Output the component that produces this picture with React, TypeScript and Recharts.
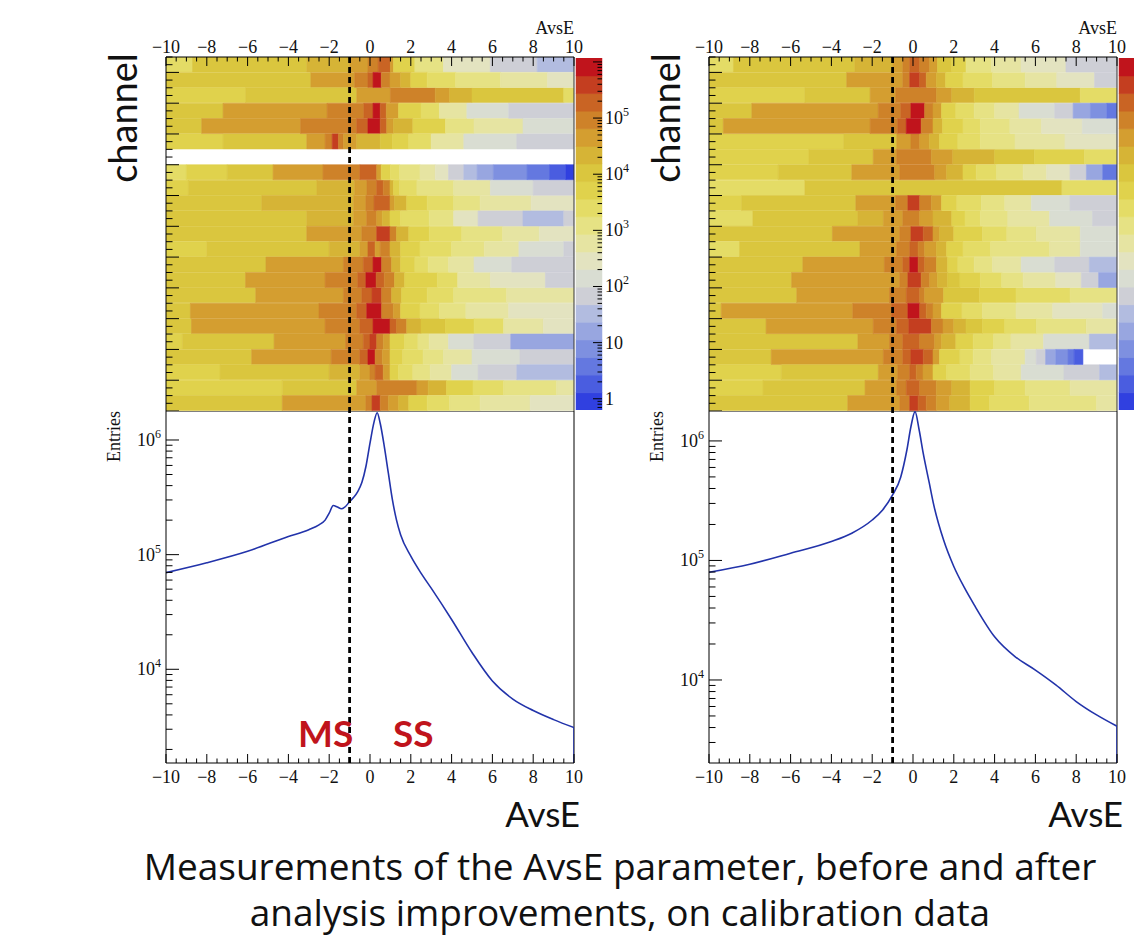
import React from "react";
import { Bar, BarChart, Cell, Line, LineChart, ReferenceLine, XAxis, YAxis } from "recharts";

const AVSE_MIN = -10;
const AVSE_MAX = 10;
const CUT = -1;
const CHANNELS = 23;
const SERIF = "'Liberation Serif', 'DejaVu Serif', serif";
const SANS = "Lato, 'Open Sans', sans-serif";

// colour bands of the z axis, lowest (blue) to highest (red)
const palette = [
  "#3040e0", "#4a5de0", "#6478e0", "#7e90e0", "#98a6e0", "#b2bce0", "#cecfd6",
  "#d9ddd2", "#e3e3c0", "#e6e4a2", "#e6e284", "#e4dc66", "#e0d24c", "#dac63e",
  "#d6b436", "#d49e30", "#ce8229", "#c96424", "#c43e20", "#c0141c",
];

// heatmap rows, top channel first: [start of run in AvsE, colour band]
const beforeRows: number[][][] = [
  [[-10, 11], [-8.7, 13], [-3.1, 14], [-1, 15], [-0.1, 16], [0.4, 17], [1.0, 15], [1.15, 12], [2.2, 10], [3.6, 8], [5.9, 6], [8.2, 5]],
  [[-10, 13], [-2.9, 15], [-0.75, 16], [-0.1, 17], [0.15, 19], [0.55, 16], [0.98, 15], [1.5, 14], [2, 12], [2.8, 11], [4.2, 10], [6.4, 9], [8.7, 8]],
  [[-10, 12], [-6.1, 13], [-0.65, 15], [1.0, 16], [3.2, 15], [3.9, 14], [5.0, 13], [9.5, 11]],
  [[-10, 13], [-7.2, 15], [-2.1, 16], [-0.3, 17], [0.15, 19], [0.5, 17], [0.8, 15], [1.4, 12], [2.5, 11], [3.4, 9], [4.75, 7], [6.8, 6]],
  [[-10, 13], [-8.25, 15], [-3.4, 16], [-0.65, 17], [-0.1, 19], [0.5, 17], [0.82, 15], [1.15, 14], [2.1, 12], [3.7, 10], [5.1, 9], [7.5, 7]],
  [[-10, 12], [-7.2, 13], [-3.1, 15], [-2.2, 16], [-1.85, 18], [-1.55, 16], [-1.3, 15], [-0.65, 14], [0.5, 13], [1.1, 12], [1.9, 11], [3.0, 9], [4.6, 7], [7.2, 6]],
  [],
  [[-10, 11], [-9, 12], [-7, 13], [-4.75, 15], [-2.3, 16], [-0.5, 17], [0.33, 15], [0.55, 12], [1.0, 11], [1.45, 10], [2.45, 9], [3.2, 8], [3.85, 6], [4.6, 5], [5.25, 4], [6.05, 3], [7.7, 2], [8.8, 1], [9.6, 0]],
  [[-10, 12], [-8.9, 13], [-2.6, 14], [-0.75, 15], [-0.15, 16], [0.33, 17], [0.65, 16], [0.98, 14], [1.15, 12], [1.45, 11], [2.3, 10], [4.1, 9], [5.9, 7], [8, 6]],
  [[-10, 13], [-5.3, 14], [-0.8, 15], [-0.2, 16], [0.2, 17], [0.98, 15], [1.2, 14], [1.8, 12], [2.8, 11], [4.1, 10], [5.4, 9], [7.9, 8]],
  [[-10, 13], [-3.1, 14], [-0.8, 15], [-0.16, 16], [0.33, 15], [0.6, 14], [0.98, 12], [1.5, 11], [2.9, 10], [4.1, 8], [5.3, 6], [7.5, 5], [9.5, 6]],
  [[-10, 13], [-3.1, 15], [-0.4, 16], [0.33, 18], [0.98, 16], [1.3, 14], [1.9, 12], [2.9, 11], [4.5, 10], [6.5, 9], [8.3, 8]],
  [[-10, 12], [-8, 13], [-2, 14], [-0.5, 15], [-0.1, 17], [0.25, 15], [0.5, 16], [0.98, 14], [1.5, 12], [2.45, 11], [4, 10], [5.6, 9], [7.3, 7], [9.5, 6]],
  [[-10, 13], [-5.1, 15], [-1.3, 16], [-0.33, 17], [0.15, 19], [0.57, 16], [1.06, 14], [1.5, 12], [2.2, 11], [2.85, 10], [3.85, 9], [5.1, 7], [6.95, 6]],
  [[-10, 13], [-6.1, 15], [-2.2, 16], [-0.6, 17], [-0.2, 19], [0.3, 17], [0.7, 16], [1.2, 14], [1.7, 12], [3.3, 11], [4.3, 9], [5.9, 8], [8.6, 6]],
  [[-10, 13], [-5.6, 15], [-1.3, 16], [-0.4, 17], [0.1, 18], [0.57, 16], [1.06, 14], [1.55, 12], [2.8, 11], [4.1, 10], [6.7, 9]],
  [[-10, 13], [-8.8, 15], [-2.5, 16], [-0.65, 17], [-0.16, 19], [0.57, 16], [1.14, 15], [1.5, 12], [2.45, 11], [3.4, 10], [4.7, 9], [6.8, 8]],
  [[-10, 13], [-8.75, 15], [-2.2, 16], [-0.5, 17], [0.15, 19], [0.98, 17], [1.3, 16], [1.8, 14], [2.5, 13], [3.7, 12], [5.1, 11], [6.55, 9], [8.5, 8]],
  [[-10, 12], [-9.2, 13], [-4.7, 15], [-1.2, 16], [-0.33, 17], [0, 18], [0.33, 16], [0.65, 15], [0.98, 12], [1.7, 11], [2.35, 10], [2.9, 9], [3.85, 7], [5.1, 6], [6.9, 4]],
  [[-10, 13], [-5.8, 15], [-1.9, 16], [-0.5, 17], [-0.1, 19], [0.25, 16], [0.6, 15], [0.98, 12], [1.6, 11], [2.6, 10], [3.6, 9], [5.0, 7], [7.35, 6]],
  [[-10, 12], [-7.35, 13], [-2, 14], [-0.5, 15], [0, 16], [0.25, 17], [0.65, 15], [0.98, 12], [1.4, 11], [2.1, 10], [2.95, 9], [4, 7], [5.3, 6], [7.2, 5]],
  [[-10, 12], [-4.3, 13], [-0.65, 15], [0.33, 16], [2.3, 15], [2.85, 14], [3.75, 12], [5.05, 11], [6.55, 10], [9.15, 9]],
  [[-10, 13], [-4.3, 15], [-0.2, 16], [0.1, 18], [0.5, 16], [0.9, 15], [1.4, 14], [1.9, 12], [2.8, 11], [3.9, 10], [5.4, 9], [7.85, 8]],
];

const afterRows: number[][][] = [
  [[-10, 11], [-8.8, 13], [-2.85, 14], [-0.98, 15], [-0.5, 16], [-0.16, 17], [0.33, 16], [0.82, 15], [1.2, 13], [1.9, 12], [2.6, 10], [3.85, 9], [5.3, 8], [7.5, 6]],
  [[-10, 13], [-3.25, 15], [-0.5, 16], [-0.16, 18], [0.33, 17], [0.65, 15], [1.15, 14], [1.6, 12], [2.45, 11], [3.9, 10], [5.5, 9], [7.05, 8], [8.9, 6]],
  [[-10, 12], [-5.3, 13], [-2.1, 15], [-0.85, 16], [1.15, 15], [1.9, 14], [3.0, 13], [8.2, 11]],
  [[-10, 13], [-7.9, 15], [-1.7, 16], [-0.6, 17], [-0.1, 19], [0.57, 16], [0.98, 15], [1.4, 12], [2.1, 11], [3.0, 10], [4.0, 9], [5.2, 7], [6.95, 6], [7.85, 4], [8.7, 3], [9.5, 2]],
  [[-10, 13], [-9.3, 15], [-2.1, 16], [-0.75, 17], [-0.33, 19], [0.4, 16], [0.98, 14], [1.45, 12], [2.45, 11], [3.3, 10], [4.75, 9], [6.3, 8], [8.3, 7]],
  [[-10, 12], [-3.4, 13], [-0.8, 15], [-0.1, 16], [0.33, 15], [0.8, 14], [1.3, 12], [2.2, 11], [3.3, 10], [5.0, 9], [7.45, 8]],
  [[-10, 12], [-5.1, 13], [-1.95, 15], [-0.8, 16], [0.9, 15], [1.95, 14], [4, 13], [5.95, 12], [8.4, 11]],
  [[-10, 12], [-6.6, 13], [-3, 15], [-0.65, 16], [1.06, 15], [1.65, 14], [2.45, 12], [3.1, 11], [4.1, 10], [5.4, 9], [6.55, 8], [7.7, 6], [8.5, 4], [9.3, 2]],
  [[-10, 11], [-5.3, 13], [7.3, 11]],
  [[-10, 12], [-8.4, 13], [-2.8, 15], [-0.85, 16], [-0.25, 18], [0.33, 16], [0.9, 15], [1.4, 12], [2.15, 11], [3.35, 10], [4.5, 9], [5.8, 7], [7.7, 6]],
  [[-10, 11], [-7.85, 13], [-2.7, 14], [-1.45, 15], [-0.5, 16], [0.33, 15], [0.98, 14], [1.9, 12], [2.55, 11], [3.3, 10], [4.65, 9], [6.7, 7], [8.8, 6]],
  [[-10, 13], [-3.95, 15], [-0.65, 16], [-0.1, 18], [0.5, 17], [0.98, 15], [1.3, 14], [2, 12], [3.4, 11], [4.6, 10], [6.05, 9], [8.2, 7]],
  [[-10, 11], [-8.5, 13], [-2.6, 15], [-0.8, 16], [-0.16, 17], [0.25, 16], [0.57, 15], [1.15, 14], [1.65, 12], [2.45, 11], [3.8, 10], [6.7, 9], [8.2, 7]],
  [[-10, 13], [-5.4, 15], [-1.4, 16], [-0.5, 17], [-0.16, 19], [0.25, 17], [0.57, 16], [1.15, 14], [1.7, 12], [2.2, 11], [3.0, 10], [3.9, 9], [5.3, 7], [6.95, 6], [8.65, 5]],
  [[-10, 13], [-5.95, 15], [-0.65, 16], [-0.25, 18], [0.4, 16], [0.82, 15], [1.2, 14], [1.7, 13], [2.3, 12], [3.3, 11], [4.35, 10], [5.4, 9], [7.0, 8], [8.25, 6], [9.1, 4]],
  [[-10, 13], [-5.7, 15], [-1.15, 16], [-0.33, 17], [0.33, 16], [0.57, 15], [1.5, 13], [3.25, 12], [5.05, 11], [7.7, 10]],
  [[-10, 13], [-9.4, 15], [-2.95, 16], [-1.05, 17], [-0.25, 19], [0.33, 17], [0.65, 16], [0.98, 15], [1.4, 12], [2.4, 11], [3.4, 10], [5.05, 9], [6.85, 8], [9.3, 7]],
  [[-10, 13], [-7.2, 15], [-1.95, 16], [-0.8, 17], [-0.2, 18], [0.9, 16], [1.47, 15], [2, 14], [2.6, 13], [3.4, 12], [4.5, 11], [6.05, 10], [8.5, 9]],
  [[-10, 13], [-2.7, 15], [-1.15, 16], [-0.5, 17], [0.33, 16], [1.06, 15], [1.4, 14], [2.1, 12], [2.95, 11], [3.95, 10], [4.8, 9], [6.4, 7], [8.65, 5]],
  [[-10, 13], [-6.95, 15], [-1.45, 16], [-0.5, 17], [-0.1, 18], [0.5, 17], [0.98, 15], [1.3, 12], [2.3, 11], [2.95, 10], [3.85, 9], [5.5, 7], [6.05, 6], [6.5, 4], [7.0, 3], [7.6, 2], [7.9, 1], [8.33, -1]],
  [[-10, 12], [-6.45, 13], [-1.7, 15], [-0.75, 16], [-0.16, 17], [0.16, 16], [0.49, 15], [0.98, 12], [1.65, 11], [2.8, 10], [3.95, 9], [5.3, 7], [7.4, 6], [9.15, 5]],
  [[-10, 12], [-7.35, 13], [-2.35, 15], [-0.8, 16], [-0.33, 17], [0.33, 16], [1.14, 15], [1.9, 14], [2.8, 12], [4, 11], [5.5, 10], [7.7, 9]],
  [[-10, 13], [-3.2, 15], [-0.65, 16], [-0.16, 18], [0.25, 17], [0.65, 16], [1.14, 15], [1.8, 14], [2.8, 12], [3.75, 11], [5.7, 10], [9, 9]],
];

// projected AvsE distributions
const beforeAvsE = [-10, -8, -6, -4, -3, -2.5, -2.2, -2.0, -1.8, -1.6, -1.4, -1.2, -1.0, -0.8, -0.6, -0.4, -0.2, 0, 0.2, 0.35, 0.5, 0.7, 0.9, 1.1, 1.3, 1.5, 2, 2.5, 3, 4, 5, 6, 7, 8, 9, 10];
const beforeEntries = [6.97e4, 8.5e4, 1.07e5, 1.44e5, 1.65e5, 1.82e5, 2.0e5, 2.3e5, 2.68e5, 2.6e5, 2.51e5, 2.63e5, 2.9e5, 3.16e5, 3.55e5, 4.25e5, 5.87e5, 9.4e5, 1.44e6, 1.73e6, 1.4e6, 8.8e5, 5.13e5, 3.0e5, 2.0e5, 1.49e5, 9.7e4, 6.9e4, 5.1e4, 2.72e4, 1.4e4, 7.9e3, 5.5e3, 4.37e3, 3.64e3, 3.1e3];
const afterAvsE = [-10, -8, -6, -4, -3, -2, -1.5, -1, -0.6, -0.3, -0.1, 0.1, 0.3, 0.5, 0.8, 1, 1.5, 2, 2.5, 3, 4, 5, 6, 7, 8, 9, 10];
const afterEntries = [7.96e4, 9.3e4, 1.15e5, 1.44e5, 1.69e5, 2.18e5, 2.63e5, 3.53e5, 5.0e5, 8.4e5, 1.32e6, 1.76e6, 1.24e6, 7.9e5, 4.43e5, 3.0e5, 1.48e5, 8.9e4, 6.0e4, 4.25e4, 2.3e4, 1.57e4, 1.21e4, 9.1e3, 6.6e3, 5.1e3, 4.1e3];

const beforeEntriesRange = [1523, 1.79e6];
const afterEntriesRange = [2020, 1.78e6];
// colour axis range, log10
const beforeZRange = [-0.2, 6.07];
const afterZRange = [-0.63, 5.68];

const halfSteps = (from: number, to: number) =>
  Array.from({ length: Math.round((to - from) * 2) + 1 }, (_, i) => from + i / 2);

const logTicks = (lo: number, hi: number) => {
  const out: number[] = [];
  for (let d = Math.floor(Math.log10(lo)); d <= Math.ceil(Math.log10(hi)); d++)
    for (let m = 1; m <= 9; m++) {
      const v = m * 10 ** d;
      if (v >= lo * 0.999 && v <= hi * 1.001) out.push(v);
    }
  return out;
};

const isDecade = (v: number) => Math.abs(Math.log10(v) - Math.round(Math.log10(v))) < 1e-6;
const signed = (v: number) => (v < 0 ? `\u2212${-v}` : `${v}`);

function Power({ x, y, value, anchor }: { x: number; y: number; value: number; anchor: "start" | "end" }) {
  const e = Math.round(Math.log10(value));
  return (
    <text x={x} y={y} textAnchor={anchor} fontFamily={SERIF} fontSize={18} fill="#111">
      {e === 0 ? "1" : "10"}
      {e > 1 && (
        <tspan dy={-8} fontSize={12}>
          {e}
        </tspan>
      )}
    </text>
  );
}

const topTick = (shift: number) => (props: any) => {
  const { x, y, payload } = props;
  const v = payload.value - shift;
  const major = Math.abs(v % 2) < 1e-6;
  return (
    <g>
      <line x1={x} x2={x} y1={y} y2={y + (major ? 9 : 4.5)} stroke="#000" />
      {major && (
        <text x={x} y={y - 4} textAnchor="middle" fontFamily={SERIF} fontSize={18} fill="#111">
          {signed(v)}
        </text>
      )}
    </g>
  );
};

const bottomTick = (props: any) => {
  const { x, y, payload } = props;
  const v = payload.value;
  const major = Math.abs(v % 2) < 1e-6;
  return (
    <g>
      <line x1={x} x2={x} y1={y} y2={y - (major ? 9 : 4.5)} stroke="#000" />
      {major && (
        <text x={x} y={y + 20} textAnchor="middle" fontFamily={SERIF} fontSize={18} fill="#111">
          {signed(v)}
        </text>
      )}
    </g>
  );
};

const channelTick = (props: any) => {
  const { x, y, payload } = props;
  const major = Math.abs(payload.value % 2) < 1e-6;
  return <line x1={x} x2={x + (major ? 13 : 6.5)} y1={y} y2={y} stroke="#000" />;
};

const entriesTick = (props: any) => {
  const { x, y, payload } = props;
  const major = isDecade(payload.value);
  return (
    <g>
      <line x1={x} x2={x + (major ? 13 : 6.5)} y1={y} y2={y} stroke="#000" />
      {major && <Power x={x - 5} y={y + 6} value={payload.value} anchor="end" />}
    </g>
  );
};

// colour-bar ticks; the decade right at the top end of the bar is left unlabelled
const zTick = (top: number, labels: boolean) => (props: any) => {
  const { x, y, payload } = props;
  const major = isDecade(payload.value);
  const labelled = labels && major && Math.log10(top) - Math.log10(payload.value) > 0.1;
  return (
    <g>
      <line x1={x} x2={x - (major ? 9 : 4.5)} y1={y} y2={y} stroke="#000" />
      {labelled && <Power x={x + 3} y={y + 6} value={payload.value} anchor="start" />}
    </g>
  );
};

const buildHeat = (rows: number[][][]) =>
  rows.map((runs, i) => {
    const rec: Record<string, number> = { ch: CHANNELS - i - 0.5 };
    runs.forEach(([start, band], k) => {
      const end = k + 1 < runs.length ? runs[k + 1][0] : AVSE_MAX;
      rec[`w${k}`] = end - start;
      rec[`b${k}`] = band;
    });
    return rec;
  });

interface PanelProps {
  dx: number;
  rows: number[][][];
  avse: number[];
  entries: number[];
  entriesRange: number[];
  zRange: number[];
  zLabels: boolean;
}

function Panel({ dx, rows, avse, entries, entriesRange, zRange, zLabels }: PanelProps) {
  // stacked bars start at 0, so the heatmap axis runs over AvsE - AVSE_MIN
  const shift = -AVSE_MIN;
  const heat = buildHeat(rows);
  const maxRuns = Math.max(...rows.map((r) => r.length));
  const curve = avse.map((x, i) => ({ x, n: entries[i] }));
  const edge = [
    { x: avse[avse.length - 1], n: entries[entries.length - 1] },
    { x: avse[avse.length - 1], n: entriesRange[0] },
  ];
  const step = (zRange[1] - zRange[0]) / palette.length;
  const bands = palette.map((fill, k) => ({ z: 10 ** (zRange[0] + (k + 0.5) * step), v: 1, fill }));
  const zDomain = [10 ** zRange[0], 10 ** zRange[1]];

  return (
    <>
      <div style={{ position: "absolute", left: 100 + dx, top: 0 }}>
        <BarChart
          width={495}
          height={411}
          data={heat}
          layout="vertical"
          margin={{ top: 56, right: 21, bottom: 0, left: 65 }}
          barCategoryGap={0}
          barGap={0}
        >
          <XAxis
            type="number"
            orientation="top"
            domain={[0, AVSE_MAX + shift]}
            allowDataOverflow
            ticks={halfSteps(AVSE_MIN, AVSE_MAX).map((v) => v + shift)}
            interval={0}
            tick={topTick(shift)}
            tickSize={0}
            tickMargin={0}
            height={1}
            axisLine={{ stroke: "#000" }}
          />
          <YAxis
            type="number"
            dataKey="ch"
            domain={[0, CHANNELS]}
            reversed
            allowDataOverflow
            ticks={halfSteps(0, CHANNELS)}
            interval={0}
            tick={channelTick}
            tickSize={0}
            tickMargin={0}
            width={1}
            axisLine={{ stroke: "#000" }}
          />
          {Array.from({ length: maxRuns }, (_, k) => (
            <Bar key={k} dataKey={`w${k}`} stackId="heat" isAnimationActive={false}>
              {heat.map((d, i) => {
                const b = d[`b${k}`];
                const fill = b === undefined || b < 0 ? "transparent" : palette[b];
                return <Cell key={i} fill={fill} stroke={fill} strokeWidth={0.6} />;
              })}
            </Bar>
          ))}
          <ReferenceLine x={AVSE_MAX + shift} stroke="#333" />
          <ReferenceLine x={CUT + shift} stroke="#000" strokeWidth={2.8} strokeDasharray="6 4" />
        </BarChart>
      </div>

      <div style={{ position: "absolute", left: 560 + dx, top: 0 }}>
        <BarChart
          width={80}
          height={411}
          data={bands}
          layout="vertical"
          margin={{ top: 58, right: 37, bottom: 1, left: 16 }}
          barCategoryGap={0}
        >
          <XAxis type="number" domain={[0, 1]} hide />
          <YAxis
            type="number"
            dataKey="z"
            scale="log"
            domain={zDomain}
            reversed
            allowDataOverflow
            orientation="right"
            ticks={logTicks(zDomain[0], zDomain[1])}
            interval={0}
            tick={zTick(zDomain[1], zLabels)}
            tickSize={0}
            tickMargin={0}
            width={1}
            axisLine={false}
          />
          <Bar dataKey="v" isAnimationActive={false}>
            {bands.map((b, i) => (
              <Cell key={i} fill={b.fill} stroke={b.fill} strokeWidth={0.5} />
            ))}
          </Bar>
        </BarChart>
      </div>

      <div style={{ position: "absolute", left: 100 + dx, top: 411 }}>
        <LineChart width={500} height={420} data={curve} margin={{ top: 0, right: 26, bottom: 67, left: 65 }}>
          <XAxis
            type="number"
            dataKey="x"
            domain={[AVSE_MIN, AVSE_MAX]}
            allowDataOverflow
            ticks={halfSteps(AVSE_MIN, AVSE_MAX)}
            interval={0}
            tick={bottomTick}
            tickSize={0}
            tickMargin={0}
            height={1}
            axisLine={{ stroke: "#000" }}
          />
          <YAxis
            type="number"
            scale="log"
            domain={entriesRange}
            allowDataOverflow
            ticks={logTicks(entriesRange[0], entriesRange[1])}
            interval={0}
            tick={entriesTick}
            tickSize={0}
            tickMargin={0}
            width={1}
            axisLine={{ stroke: "#000" }}
          />
          <ReferenceLine y={entriesRange[1]} stroke="#000" />
          <ReferenceLine x={AVSE_MAX} stroke="#000" />
          <Line dataKey="n" type="monotone" stroke="#2233aa" strokeWidth={1.6} dot={false} isAnimationActive={false} />
          <Line data={edge} dataKey="n" type="linear" stroke="#2233aa" strokeWidth={1.6} dot={false} isAnimationActive={false} />
          <ReferenceLine x={CUT} stroke="#000" strokeWidth={2.8} strokeDasharray="6 4" />
        </LineChart>
      </div>
    </>
  );
}

function Titles({ dx, showRegions }: { dx: number; showRegions: boolean }) {
  return (
    <g>
      <text x={137 + dx} y={118} transform={`rotate(-90 ${137 + dx} 118)`} textAnchor="middle" fontFamily={SANS} fontSize={38} fill="#111">
        channel
      </text>
      <text x={120 + dx} y={411} transform={`rotate(-90 ${120 + dx} 411)`} textAnchor="end" fontFamily={SERIF} fontSize={18} fill="#111">
        Entries
      </text>
      <text x={574 + dx} y={34} textAnchor="end" fontFamily={SERIF} fontSize={18} fill="#111">
        AvsE
      </text>
      <text x={580 + dx} y={827} textAnchor="end" fontFamily={SANS} fontSize={35} fill="#111">
        AvsE
      </text>
      {showRegions && (
        <>
          <text x={298} y={747} fontFamily={SANS} fontWeight={700} fontSize={37} fill="#c0141c">
            MS
          </text>
          <text x={393} y={747} fontFamily={SANS} fontWeight={700} fontSize={37} fill="#c0141c">
            SS
          </text>
        </>
      )}
    </g>
  );
}

export default function App() {
  return (
    <div style={{ position: "absolute", left: 0, top: 0, width: 1134, height: 942, overflow: "hidden", background: "#fff" }}>
      <Panel dx={0} rows={beforeRows} avse={beforeAvsE} entries={beforeEntries} entriesRange={beforeEntriesRange} zRange={beforeZRange} zLabels />
      <Panel dx={543} rows={afterRows} avse={afterAvsE} entries={afterEntries} entriesRange={afterEntriesRange} zRange={afterZRange} zLabels={false} />
      <svg width={1134} height={942} style={{ position: "absolute", left: 0, top: 0, pointerEvents: "none" }}>
        <Titles dx={0} showRegions />
        <Titles dx={543} showRegions={false} />
        <text x={620} y={880} textAnchor="middle" fontFamily="'Open Sans', sans-serif" fontSize={37} fill="#111">
          Measurements of the AvsE parameter, before and after
        </text>
        <text x={620} y={926} textAnchor="middle" fontFamily="'Open Sans', sans-serif" fontSize={37} fill="#111">
          analysis improvements, on calibration data
        </text>
      </svg>
    </div>
  );
}
